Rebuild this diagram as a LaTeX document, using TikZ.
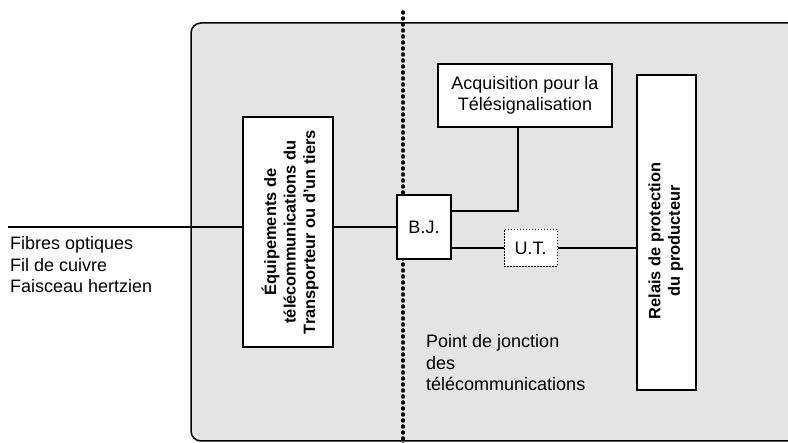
\documentclass[tikz,border=0pt]{standalone}
\usepackage{fontspec}
\setmainfont{Liberation Sans}
\definecolor{bgc}{RGB}{228,228,228}
\begin{document}
\begin{tikzpicture}[x=1pt,y=-1pt,
  box/.style={draw, line width=1.6pt, fill=white, inner sep=0pt},
  dotbox/.style={draw, line width=1pt, dash pattern=on 1.5pt off 1.5pt, fill=white, inner sep=0pt},
  conn/.style={line width=2pt},
  txt/.style={font=\fontsize{18}{21.5}\selectfont, inner sep=0pt},
  btxt/.style={font=\fontsize{16.4}{19.5}\selectfont\bfseries, inner sep=0pt}]
\useasboundingbox (0,0) rectangle (788,443);
\clip (0,0) rectangle (788,443);
\draw[fill=bgc, line width=1.5pt, rounded corners=10pt] (191,23) rectangle (810,441);
\coordinate (dtop) at (403,12);
\coordinate (dbot) at (403,450);
\draw[line width=3.5pt, line cap=round, dash pattern=on 1pt off 5pt] (dtop) -- (dbot);
% boxes
\node[box, minimum width=90pt, minimum height=230pt] (equip) at (288,232) {};
\node[btxt, rotate=90, align=center] (equiptxt) at (290,232) {Équipements de\\télécommunications du\\Transporteur ou d'un tiers};
\node[box, minimum width=54pt, minimum height=64pt, txt] (bj) at (424,227) {B.J.};
\node[dotbox, minimum width=53pt, minimum height=37pt, txt] (ut) at (530.5,248) {U.T.};
\node[box, minimum width=174pt, minimum height=63pt, txt, align=center] (acq) at (525,95.5) {Acquisition pour la\\Télésignalisation};
\node[box, minimum width=59pt, minimum height=315pt] (relais) at (666.5,232.5) {};
\node[btxt, rotate=90, align=center] (relaistxt) at (666,241) {Relais de protection\\du producteur};
% texts
\node[txt, align=left, anchor=base west] (media) at (10,293) {Fibres optiques\\Fil de cuivre\\Faisceau hertzien};
\node[txt, align=left, anchor=base west] (pjt) at (426,391) {Point de jonction\\des\\télécommunications};
% connectors
\coordinate (lin) at (8,227);
\draw[conn] (lin) -- (lin -| equip.west);
\draw[conn] (bj.west -| equip.east) -- (bj.west);
\draw[conn] ([yshift=16pt]bj.east) -| ([xshift=-7pt]acq.south);
\draw[conn] (bj.east |- ut.west) -- (ut.west);
\draw[conn] (ut.east) -- (ut.east -| relais.west);
\end{tikzpicture}
\end{document}
